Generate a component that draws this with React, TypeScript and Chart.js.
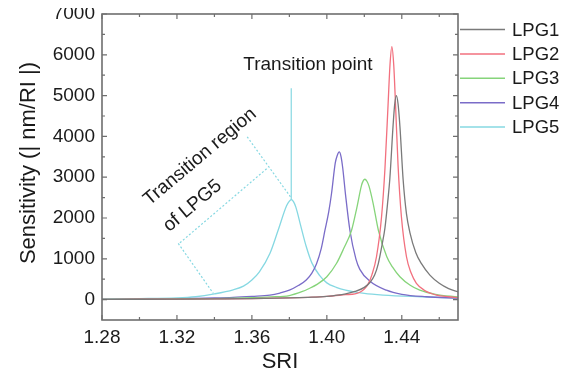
import React, { useEffect, useRef } from "react";
import { Chart, registerables } from "chart.js";

Chart.register(...registerables);

const SERIES_LABELS = ["LPG1", "LPG2", "LPG3", "LPG4", "LPG5"];
const SERIES_COLORS = ["#7a7a7a", "#f2707e", "#86d47a", "#7a6cc8", "#86d8e2"];

const LPG1_X = [1.28, 1.30, 1.32, 1.34, 1.36, 1.38, 1.39, 1.40, 1.41, 1.415, 1.42, 1.423, 1.4255, 1.4275, 1.4295, 1.431, 1.4325, 1.4336, 1.4354, 1.4362, 1.4371, 1.438, 1.439, 1.4407, 1.4425, 1.4443, 1.4475, 1.4505, 1.455, 1.46, 1.465, 1.47];
const LPG1_Y = [5, 8, 12, 18, 25, 40, 55, 80, 140, 200, 300, 420, 600, 890, 1350, 1750, 2400, 2950, 4300, 4780, 5000, 4800, 4250, 2950, 2100, 1650, 1150, 880, 600, 400, 270, 190];

const LPG2_X = [1.28, 1.30, 1.32, 1.34, 1.36, 1.38, 1.39, 1.40, 1.41, 1.415, 1.4176, 1.42, 1.422, 1.424, 1.4265, 1.4292, 1.431, 1.4327, 1.4337, 1.4347, 1.4357, 1.4366, 1.438, 1.4398, 1.4425, 1.445, 1.4478, 1.452, 1.4585, 1.465, 1.47];
const LPG2_Y = [5, 8, 12, 18, 25, 40, 55, 80, 120, 140, 180, 260, 380, 600, 1050, 2030, 3200, 4800, 5750, 6200, 5750, 4850, 3300, 2030, 1050, 650, 400, 230, 110, 70, 50];

const LPG3_X = [1.28, 1.30, 1.32, 1.34, 1.36, 1.37, 1.38, 1.387, 1.39, 1.395, 1.40, 1.4052, 1.409, 1.4132, 1.416, 1.4185, 1.4194, 1.4203, 1.4214, 1.4225, 1.4247, 1.4275, 1.432, 1.435, 1.439, 1.4445, 1.4496, 1.458, 1.47];
const LPG3_Y = [5, 10, 15, 25, 45, 65, 100, 200, 260, 380, 560, 890, 1250, 1700, 2250, 2800, 2910, 2950, 2900, 2780, 2360, 1700, 1050, 800, 560, 350, 230, 130, 65];

const LPG4_X = [1.28, 1.30, 1.32, 1.34, 1.35, 1.36, 1.3696, 1.375, 1.38, 1.385, 1.389, 1.392, 1.3945, 1.397, 1.399, 1.401, 1.4025, 1.4045, 1.4056, 1.4066, 1.4076, 1.4085, 1.41, 1.4123, 1.4155, 1.4176, 1.423, 1.4318, 1.44, 1.453, 1.47];
const LPG4_Y = [5, 10, 20, 40, 55, 80, 110, 160, 230, 350, 480, 650, 880, 1250, 1700, 2150, 2600, 3350, 3540, 3620, 3500, 3220, 2560, 1700, 1000, 740, 450, 230, 130, 70, 35];

const LPG5_X = [1.28, 1.30, 1.32, 1.33, 1.34, 1.35, 1.3555, 1.36, 1.364, 1.3696, 1.374, 1.3785, 1.3798, 1.381, 1.3822, 1.3835, 1.386, 1.389, 1.392, 1.396, 1.40, 1.405, 1.41, 1.42, 1.43, 1.45, 1.47];
const LPG5_Y = [20, 25, 40, 70, 140, 240, 330, 480, 680, 1130, 1700, 2300, 2400, 2450, 2400, 2260, 1820, 1300, 900, 600, 410, 300, 230, 150, 110, 70, 40];

const SERIES_X = [LPG1_X, LPG2_X, LPG3_X, LPG4_X, LPG5_X];
const SERIES_Y = [LPG1_Y, LPG2_Y, LPG3_Y, LPG4_Y, LPG5_Y];

const X_MIN = 1.28;
const X_MAX = 1.47;
const Y_MIN = -500;
const Y_MAX = 7000;
const X_TICKS = [1.28, 1.32, 1.36, 1.40, 1.44];
const X_MINOR = [1.30, 1.34, 1.38, 1.42, 1.46];
const Y_TICKS = [0, 1000, 2000, 3000, 4000, 5000, 6000, 7000];
const Y_MINOR = [500, 1500, 2500, 3500, 4500, 5500, 6500];

const X_TITLE = "SRI";
const Y_TITLE = "Sensitivity (| nm/RI |)";

// annotation (data coordinates)
const TRANSITION_LINE = [1.381, 5180, 1.381, 2450];
const REGION_SEGMENTS = [
  [1.3575, 3990, 1.3812, 2480],
  [1.3207, 1377, 1.3394, 152],
  [1.3216, 1392, 1.3687, 3239],
];
const NOTE_POINT = { text: "Transition point", x: 1.3899, y: 5745 };
const NOTE_REGION = [
  { text: "Transition region", x: 1.3323, y: 3499 },
  { text: "of LPG5", x: 1.3283, y: 2298 },
];

const FONT = "'Liberation Sans', Arial, sans-serif";

const decorPlugin = {
  id: "decor",
  afterDatasetsDraw(chart: any) {
    const { ctx, chartArea: a } = chart;
    const xs = chart.scales.x;
    const ys = chart.scales.y;
    const px = (v: number) => xs.getPixelForValue(v);
    const py = (v: number) => ys.getPixelForValue(v);
    const annColor = SERIES_COLORS[4];
    ctx.save();

    // transition line
    ctx.strokeStyle = annColor;
    ctx.lineWidth = 1.2;
    ctx.beginPath();
    ctx.moveTo(px(TRANSITION_LINE[0]), py(TRANSITION_LINE[1]));
    ctx.lineTo(px(TRANSITION_LINE[2]), py(TRANSITION_LINE[3]));
    ctx.stroke();

    ctx.setLineDash([2, 2]);
    ctx.lineWidth = 1.2;
    for (const s of REGION_SEGMENTS) {
      ctx.beginPath();
      ctx.moveTo(px(s[0]), py(s[1]));
      ctx.lineTo(px(s[2]), py(s[3]));
      ctx.stroke();
    }
    ctx.setLineDash([]);

    // notes
    ctx.fillStyle = "#1a1a1a";
    ctx.font = `19px ${FONT}`;
    ctx.textAlign = "center";
    ctx.textBaseline = "middle";
    ctx.fillText(NOTE_POINT.text, px(NOTE_POINT.x), py(NOTE_POINT.y));
    for (const n of NOTE_REGION) {
      ctx.save();
      ctx.translate(px(n.x), py(n.y));
      ctx.rotate((-40 * Math.PI) / 180);
      ctx.fillText(n.text, 0, 0);
      ctx.restore();
    }

    // frame
    ctx.strokeStyle = "#6e6e6e";
    ctx.lineWidth = 1.6;
    ctx.strokeRect(a.left, a.top, a.right - a.left, a.bottom - a.top);
    ctx.lineWidth = 1.2;
    ctx.beginPath();
    const tick = (vals: number[], len: number) => {
      for (const v of vals) {
        const x = px(v);
        ctx.moveTo(x, a.bottom);
        ctx.lineTo(x, a.bottom - len);
        ctx.moveTo(x, a.top);
        ctx.lineTo(x, a.top + len);
      }
    };
    const tickY = (vals: number[], len: number) => {
      for (const v of vals) {
        const y = py(v);
        ctx.moveTo(a.left, y);
        ctx.lineTo(a.left + len, y);
        ctx.moveTo(a.right, y);
        ctx.lineTo(a.right - len, y);
      }
    };
    tick(X_TICKS, 5);
    tick(X_MINOR, 3);
    tickY(Y_TICKS, 5);
    tickY(Y_MINOR, 3);
    ctx.stroke();

    // legend
    ctx.font = `18.5px ${FONT}`;
    ctx.textAlign = "left";
    ctx.textBaseline = "middle";
    chart.data.datasets.forEach((ds: any, i: number) => {
      const y = a.top + 15.5 + i * 24.4;
      ctx.strokeStyle = ds.borderColor;
      ctx.lineWidth = 1.5;
      ctx.beginPath();
      ctx.moveTo(a.right + 2, y);
      ctx.lineTo(a.right + 47, y);
      ctx.stroke();
      ctx.fillStyle = "#1a1a1a";
      ctx.fillText(ds.label, a.right + 54, y + 1);
    });

    // axis titles
    ctx.font = `22px ${FONT}`;
    ctx.textAlign = "center";
    ctx.textBaseline = "alphabetic";
    ctx.fillText(X_TITLE, (a.left + a.right) / 2, 368);
    ctx.save();
    ctx.translate(27, 163);
    ctx.rotate(-Math.PI / 2);
    ctx.fillText(Y_TITLE, 0, 0);
    ctx.restore();

    ctx.restore();
  },
};

export default function App() {
  const ref = useRef<HTMLCanvasElement | null>(null);
  useEffect(() => {
    if (!ref.current) return;
    const datasets = SERIES_LABELS.map((label, i) => ({
      label,
      data: SERIES_X[i].map((x, j) => ({ x, y: SERIES_Y[i][j] })),
      borderColor: SERIES_COLORS[i],
      backgroundColor: SERIES_COLORS[i],
      borderWidth: 1.3,
      pointRadius: 0,
      cubicInterpolationMode: "monotone" as const,
      fill: false,
    }));
    const chart = new Chart(ref.current, {
      type: "line",
      data: { datasets },
      options: {
        animation: false,
        responsive: false,
        layout: { padding: { top: 14, right: 108, left: 0, bottom: 0 } },
        plugins: { legend: { display: false }, tooltip: { enabled: false } },
        scales: {
          x: {
            type: "linear",
            min: X_MIN,
            max: X_MAX,
            grid: { display: false, drawTicks: false },
            border: { display: false },
            afterBuildTicks: (s: any) => {
              s.ticks = X_TICKS.map((v) => ({ value: v }));
            },
            afterFit: (s: any) => {
              s.height = 51;
              s.paddingLeft = 0;
              s.paddingRight = 0;
            },
            ticks: {
              padding: 6,
              color: "#1a1a1a",
              font: { family: FONT, size: 19 },
              maxRotation: 0,
              callback: (v: any) => Number(v).toFixed(2),
            },
          },
          y: {
            type: "linear",
            min: Y_MIN,
            max: Y_MAX,
            grid: { display: false, drawTicks: false },
            border: { display: false },
            afterBuildTicks: (s: any) => {
              s.ticks = Y_TICKS.map((v) => ({ value: v }));
            },
            afterFit: (s: any) => {
              s.width = 94;
              s.paddingTop = 0;
              s.paddingBottom = 0;
            },
            ticks: {
              padding: 7,
              color: "#1a1a1a",
              font: { family: FONT, size: 19 },
              callback: (v: any) => String(v),
            },
          },
        },
      },
      plugins: [decorPlugin],
    });
    return () => chart.destroy();
  }, []);
  return (
    <div style={{ width: 558, height: 371, marginTop: -8 }}>
      <canvas ref={ref} width={558} height={371} style={{ display: "block" }} />
    </div>
  );
}
